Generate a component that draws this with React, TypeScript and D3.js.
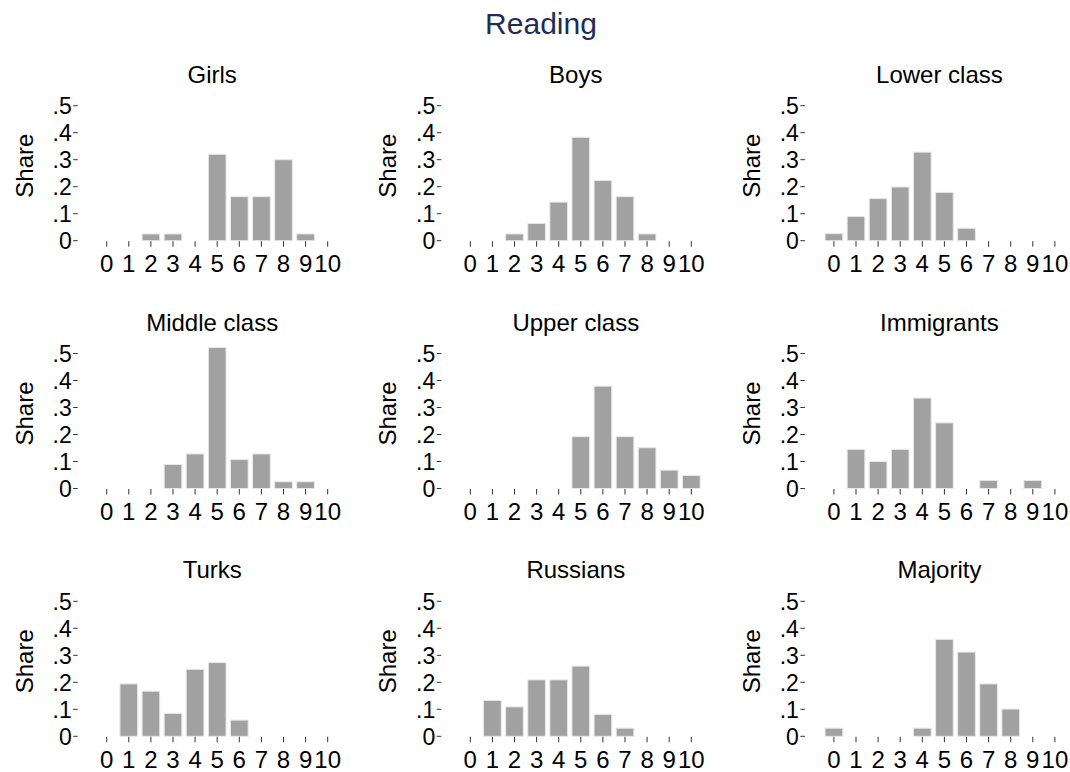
import React from "react"
import * as d3 from "d3"

// score categories on the x axis
const scores = [0, 1, 2, 3, 4, 5, 6, 7, 8, 9, 10]
const yTicks = [0, 0.1, 0.2, 0.3, 0.4, 0.5]
const yTickLabels = ["0", ".1", ".2", ".3", ".4", ".5"]

const groups = [
  "Girls", "Boys", "Lower class",
  "Middle class", "Upper class", "Immigrants",
  "Turks", "Russians", "Majority",
]

// share of pupils per score, one array per group
const girls = [0, 0, 0.025, 0.025, 0, 0.32, 0.163, 0.163, 0.3, 0.025, 0]
const boys = [0, 0, 0.025, 0.064, 0.143, 0.383, 0.223, 0.163, 0.025, 0, 0]
const lowerClass = [0.026, 0.09, 0.156, 0.199, 0.328, 0.179, 0.046, 0, 0, 0, 0]
const middleClass = [0, 0, 0, 0.089, 0.128, 0.522, 0.107, 0.128, 0.025, 0.025, 0]
const upperClass = [0, 0, 0, 0, 0, 0.192, 0.379, 0.192, 0.151, 0.068, 0.048]
const immigrants = [0, 0.145, 0.1, 0.145, 0.335, 0.243, 0, 0.03, 0, 0.03, 0]
const turks = [0, 0.194, 0.167, 0.085, 0.248, 0.273, 0.06, 0, 0, 0, 0]
const russians = [0, 0.133, 0.109, 0.209, 0.209, 0.26, 0.081, 0.03, 0, 0, 0]
const majority = [0.03, 0, 0, 0, 0.03, 0.359, 0.312, 0.194, 0.101, 0, 0]

const series = [girls, boys, lowerClass, middleClass, upperClass, immigrants, turks, russians, majority]

const W = 1070
const H = 772
const FONT = "'Liberation Sans', Arial, Helvetica, sans-serif"

// layout of the 3x3 grid (x of score 0, y of share 0 in first panel)
const x0First = 106.7
const zeroFirst = 240.7
const colStep = 363.6
const rowStep = 247.8
const xSpan = 221
const ySpan = 135

function Panel({ title, values, col, row }: { title: string; values: number[]; col: number; row: number }) {
  const left = x0First + col * colStep
  const zero = zeroFirst + row * rowStep

  const x = d3.scaleLinear().domain([0, 10]).range([left, left + xSpan])
  const y = d3.scaleLinear().domain([0, 0.5]).range([zero, zero - ySpan])
  const unit = x(1) - x(0)
  const barW = unit * 0.8

  return (
    <g>
      <text x={left + 105.5} y={zero - 158} textAnchor="middle" fontSize={24} fill="#000">
        {title}
      </text>

      <text
        transform={`translate(${left - 74},${zero - 75}) rotate(-90)`}
        textAnchor="middle"
        fontSize={24}
        fill="#000"
      >
        Share
      </text>

      {yTicks.map((t, i) => (
        <g key={"y" + i}>
          <line x1={left - 33.5} x2={left - 29} y1={y(t)} y2={y(t)} stroke="#333" strokeWidth={1} />
          <text x={left - 35} y={y(t)} dy="0.36em" textAnchor="end" fontSize={23} fill="#000">
            {yTickLabels[i]}
          </text>
        </g>
      ))}

      {values.map((v, i) =>
        v > 0 ? (
          <rect
            key={"b" + i}
            x={x(scores[i]) - barW / 2}
            y={y(v)}
            width={barW}
            height={zero - y(v)}
            fill="#a1a1a1"
            stroke="#e8e8e8"
            strokeWidth={1}
          />
        ) : null
      )}

      {scores.map(s => (
        <g key={"x" + s}>
          <line x1={x(s)} x2={x(s)} y1={zero + 0.5} y2={zero + 6} stroke="#333" strokeWidth={1} />
          <text x={x(s)} y={zero + 31.5} textAnchor="middle" fontSize={24} fill="#000">
            {s}
          </text>
        </g>
      ))}
    </g>
  )
}

export default function App() {
  return (
    <div style={{ position: "absolute", left: 0, top: 0 }}>
      <svg width={W} height={H} style={{ display: "block", background: "#fff" }} fontFamily={FONT}>
        <rect width={W} height={H} fill="#fff" />
        <text x={541} y={33.5} textAnchor="middle" fontSize={30} fill="#1e2c57">
          Reading
        </text>
        {groups.map((g, i) => (
          <Panel key={g} title={g} values={series[i]} col={i % 3} row={Math.floor(i / 3)} />
        ))}
      </svg>
    </div>
  )
}
